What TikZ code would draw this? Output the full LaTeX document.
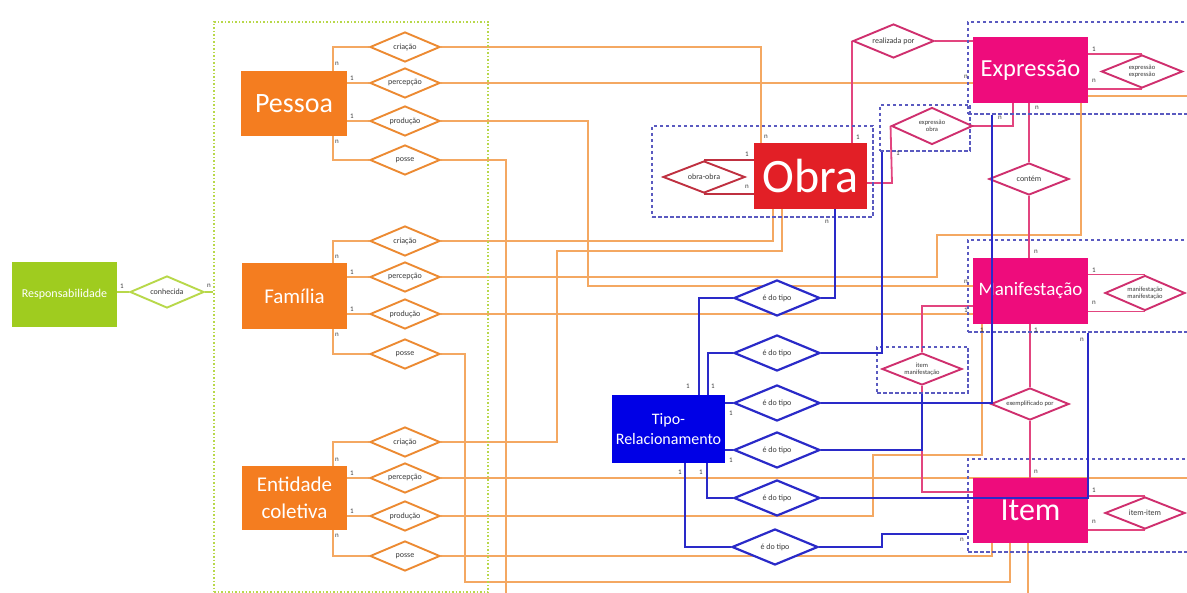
\documentclass[tikz,border=0pt]{standalone}
\usepackage{fontspec}
\setmainfont{Carlito}
\usetikzlibrary{shapes.geometric}
\pgfdeclarelayer{bg}
\pgfsetlayers{bg,main}
\definecolor{limeF}{HTML}{9FCC1F}
\definecolor{limeL}{HTML}{B8D84A}
\definecolor{orngF}{HTML}{F47D20}
\definecolor{orngD}{HTML}{EC8A32}
\definecolor{orngL}{HTML}{F4A862}
\definecolor{obraF}{HTML}{E21F26}
\definecolor{magF}{HTML}{EE0C7C}
\definecolor{pinkL}{HTML}{E2457F}
\definecolor{pinkD}{HTML}{CF2F6E}
\definecolor{redD}{HTML}{BF3040}
\definecolor{blueF}{HTML}{0000E6}
\definecolor{blueL}{HTML}{2A2AC8}
\definecolor{dashC}{HTML}{5A5AC0}
\definecolor{txtD}{HTML}{3A3A3A}
\begin{document}
\begin{tikzpicture}[x=1pt,y=-1pt,
  ent/.style={rectangle, inner sep=0pt, text=white, align=center},
  grpG/.style={draw=limeL, dotted, line width=1.5pt, inner sep=0pt},
  grpB/.style={draw=dashC, dash pattern=on 3.5pt off 2.5pt, line width=1.4pt, inner sep=0pt},
  dlab/.style={font=\fontsize{8}{8.5}\selectfont, text=txtD, align=center, inner sep=0pt},
  dlabs/.style={font=\fontsize{6.5}{7}\selectfont, text=txtD, align=center, inner sep=0pt},
  rdia/.style={diamond, fill=white, inner sep=0pt, line width=1.9pt},
  odia/.style={rdia, draw=orngD, minimum width=70pt, minimum height=30pt},
  pdia/.style={rdia, draw=pinkD, minimum width=80pt, minimum height=33pt},
  bdia/.style={rdia, draw=blueL, line width=2.2pt, minimum width=86pt, minimum height=36pt},
  oline/.style={draw=orngL, line width=1.8pt},
  gline/.style={draw=limeL, line width=1.8pt},
  pline/.style={draw=pinkL, line width=1.8pt},
  rline/.style={draw=redD, line width=1.6pt},
  bline/.style={draw=blueL, line width=1.8pt},
  num/.style={font=\fontsize{7}{7}\selectfont, text=txtD, inner sep=0pt}]
\useasboundingbox (0,0) rectangle (1187,593);
\clip (0,0) rectangle (1187,593);

% groups
\node[grpG, minimum width=274pt, minimum height=570pt] (grpA) at (351,307) {};
\node[grpB, minimum width=221pt, minimum height=91pt] (gobra) at (762.5,171.5) {};
\node[grpB, minimum width=227pt, minimum height=92pt] (gexpr) at (1081.5,68) {};
\node[grpB, minimum width=90pt, minimum height=46pt] (geo) at (925,128) {};
\node[grpB, minimum width=227pt, minimum height=92pt] (gmanif) at (1081.5,286) {};
\node[grpB, minimum width=91pt, minimum height=46pt] (gim) at (922.5,370) {};
\node[grpB, minimum width=227pt, minimum height=93pt] (gitem) at (1081.5,505.5) {};

% entities
\node[ent, fill=limeF, minimum width=105pt, minimum height=65pt, font=\fontsize{12}{13}\selectfont] (resp) at (64.5,294.5) {Responsabilidade};
\node[ent, fill=orngF, minimum width=106pt, minimum height=65pt, font=\fontsize{28}{30}\selectfont] (pessoa) at (294,103.5) {Pessoa};
\node[ent, fill=orngF, minimum width=105pt, minimum height=66pt, font=\fontsize{21}{24}\selectfont] (familia) at (294.5,296) {Família};
\node[ent, fill=orngF, minimum width=105pt, minimum height=64pt, font=\fontsize{21}{27}\selectfont] (ec) at (294.5,498) {Entidade\\coletiva};
\node[ent, fill=obraF, minimum width=113pt, minimum height=66pt, font=\fontsize{48}{50}\selectfont] (obra) at (810.5,176) {Obra};
\node[ent, fill=magF, minimum width=115pt, minimum height=66pt, font=\fontsize{24.5}{26}\selectfont] (expr) at (1030.5,70) {Expressão};
\node[ent, fill=magF, minimum width=115pt, minimum height=66pt, font=\fontsize{19}{21}\selectfont] (manif) at (1030.5,291) {Manifestação};
\node[ent, fill=magF, minimum width=115pt, minimum height=65pt, font=\fontsize{32}{34}\selectfont] (item) at (1030.5,510.5) {Item};
\node[ent, fill=blueF, minimum width=113pt, minimum height=68pt, font=\fontsize{16}{20}\selectfont] (tipo) at (668.5,429) {Tipo-\\Relacionamento};

% diamonds
\node[rdia, draw=limeL, minimum width=74pt, minimum height=32pt, label={[dlab]center:conhecida}] (conh) at (167,292) {};
\foreach \n/\y/\t in {pcr/47/criação, ppe/83/percepção, ppr/121/produção, pps/160/posse,
                      fcr/241/criação, fpe/277/percepção, fpr/314/produção, fps/354/posse,
                      ecr/442/criação, epe/478/percepção, epr/516/produção, eps/556/posse}
  \node[odia, label={[dlab]center:\t}] (\n) at (405,\y) {};
\node[rdia, draw=redD, minimum width=82pt, minimum height=32pt, label={[dlab]center:obra-obra}] (oo) at (704,177) {};
\node[pdia, minimum width=81pt, minimum height=34pt, label={[dlab]center:realizada por}] (rp) at (893.5,41) {};
\node[pdia, minimum width=81pt, minimum height=37pt, label={[dlabs]center:expressão\\obra}] (eo) at (932,126) {};
\node[pdia, minimum width=81pt, minimum height=33pt, label={[dlabs]center:expressão\\expressão}] (ee) at (1142,71.5) {};
\node[pdia, minimum height=32pt, label={[dlab]center:contém}] (ct) at (1029,179) {};
\node[pdia, minimum height=35pt, label={[dlabs]center:manifestação\\manifestação}] (mm) at (1145,293) {};
\node[pdia, minimum height=32pt, label={[dlabs]center:item\\manifestação}] (im) at (922,369) {};
\node[pdia, minimum width=78pt, minimum height=32pt, label={[dlabs]center:exemplificado por}] (ex) at (1030,404) {};
\node[pdia, minimum height=32pt, label={[dlab]center:item-item}] (ii) at (1145,513) {};
\foreach \n/\x/\y in {et1/777/298, et2/777/353, et3/777/403, et4/777/450, et5/777/498, et6/775/547}
  \node[bdia, label={[dlab]center:é do tipo}] (\n) at (\x,\y) {};

% routing coordinates
\coordinate (c1) at (588,286);
\coordinate (c2) at (506,600);
\coordinate (c3) at (937,235);
\coordinate (c4) at (465,582);
\coordinate (c5) at (557,251);
\coordinate (c6) at (1195,478);
\coordinate (c7) at (873,455);
\coordinate (c8) at (1195,96);
\coordinate (c9) at (1028,600);
\coordinate (p1) at (1013,126);
\coordinate (p2) at (892,183);
\coordinate (p3) at (922,306);
\coordinate (p4) at (922,492);
\coordinate (b1) at (699,298);
\coordinate (b2) at (835,298);
\coordinate (b3) at (708,353);
\coordinate (b4) at (882,353);
\coordinate (b5) at (992,403);
\coordinate (b6) at (922,450);
\coordinate (b7) at (707,498);
\coordinate (b8) at (1088,498);
\coordinate (b9) at (685,547);
\coordinate (b10) at (882,534);

\begin{pgfonlayer}{bg}
% green
\draw[gline] (resp.east |- conh.west) -- (conh.west);
\draw[gline] (conh.east) -- (conh.east -| grpA.west);
% orange, entity side
\foreach \e/\a/\b/\c/\d in {pessoa/pcr/ppe/ppr/pps, familia/fcr/fpe/fpr/fps, ec/ecr/epe/epr/eps}{
  \draw[oline] ([xshift=-14pt]\e.north east) |- (\a.west);
  \draw[oline] (\b.west) -- (\b.west -| \e.east);
  \draw[oline] (\c.west) -- (\c.west -| \e.east);
  \draw[oline] ([xshift=-14pt]\e.south east) |- (\d.west);
}
% orange, far side
\draw[oline] (pcr.east) -| ([xshift=-49.5pt]obra.north);
\draw[oline] (ppe.east) -- (ppe.east -| expr.west);
\draw[oline] (ppr.east) -| (c1) -- (c1 -| manif.west);
\draw[oline] (pps.east) -| (c2);
\draw[oline] (fcr.east) -| ([xshift=-37.5pt]obra.south);
\draw[oline] (fpe.east) -| (c3) -| ([xshift=-7pt]expr.south east);
\draw[oline] (fpr.east) -- (fpr.east -| manif.west);
\draw[oline] (fps.east) -| (c4) -| ([xshift=-20.5pt]item.south);
\draw[oline] (ecr.east) -| (c5) -| ([xshift=-28.5pt]obra.south);
\draw[oline] (epe.east) -- (c6);
\draw[oline] (epr.east) -| (c7) -| ([xshift=-48.5pt]manif.south);
\draw[oline] (eps.east) -| ([xshift=-38.5pt]item.south);
\draw[oline] ([yshift=-26pt]expr.east) -- (c8);
\draw[oline] (c9 |- item.south) -- (c9);
% pink
\draw[rline] (oo.north) -- (oo.north -| obra.west);
\draw[rline] (oo.south) -- (oo.south -| obra.west);
\draw[pline] (rp.west) -- (rp.west |- obra.north);
\draw[pline] (rp.east) -- (rp.east -| expr.west);
\draw[pline] (eo.east) -- (p1) -- (p1 |- expr.south);
\draw[pline] (eo.west) -- (p2) -- (p2 -| obra.east);
\draw[pline] (ee.north) -- (ee.north -| expr.east);
\draw[pline] (ee.south) -- (ee.south -| expr.east);
\draw[pline] (ct.north) -- (ct.north |- expr.south);
\draw[pline] (ct.south) -- (ct.south |- manif.north);
\draw[pline] (mm.north) -- (mm.north -| manif.east);
\draw[pline] (mm.south) -- (mm.south -| manif.east);
\draw[pline] (im.north) -- (p3) -- (p3 -| manif.west);
\draw[pline] (im.south) -- (p4) -- (p4 -| item.west);
\draw[pline] (ex.north) -- (ex.north |- manif.south);
\draw[pline] (ex.south) -- (ex.south |- item.north);
\draw[pline] (ii.north) -- (ii.north -| item.east);
\draw[pline] (ii.south) -- (ii.south -| item.east);
\end{pgfonlayer}

% blue
\draw[bline] (et1.west) -- (b1) -- (b1 |- tipo.north);
\draw[bline] (et1.east) -- (b2) -- (b2 |- obra.south);
\draw[bline] (et2.west) -- (b3) -- (b3 |- tipo.north);
\draw[bline] (et2.east) -- (b4) -- (b4 |- geo.south);
\draw[bline] (et3.west) -- (et3.west -| tipo.east);
\draw[bline] (et3.east) -- (b5) -- (b5 |- gexpr.south);
\draw[bline] (et4.west) -- (et4.west -| tipo.east);
\draw[bline] (et4.east) -- (b6) -- (b6 |- gim.south);
\draw[bline] (et5.west) -- (b7) -- (b7 |- tipo.south);
\draw[bline] (et5.east) -- (b8) -- (b8 |- gmanif.south);
\draw[bline] (et6.west) -- (b9) -- (b9 |- tipo.south);
\draw[bline] (et6.east) -| (b10) -- (b10 -| gitem.west);

% cardinalities
\foreach \n/\x/\y/\t in {
  n01/122/286/1, n02/209/286/n,
  n03/337/64/n, n04/352/78/1, n05/352/116/1, n06/337/142/n,
  n07/337/257/n, n08/352/272/1, n09/352/309/1, n10/337/335/n,
  n11/337/460/n, n12/352/473/1, n13/352/511/1, n14/337/536/n,
  n15/766/137/n, n16/747/154/1, n17/747/187/n, n18/858/137/1, n19/827/222/n, n20/898/153/1,
  n21/966/77/n, n22/1094/49/1, n23/1094/81/n, n24/1000/118/n, n25/1037/108/n,
  n26/1036/252/n, n27/1094/270/1, n28/1094/303/n, n29/966/282/n, n30/966/310/1,
  n31/1036/330/1, n32/1082/340/n, n33/982/330/1,
  n34/1036/472/n, n35/1094/490/1, n36/1094/522/n, n37/962/540/n,
  n38/688/386/1, n39/713/386/1, n40/731/413/1, n41/731/460/1, n42/680/472/1, n43/701/472/1}
  \node[num] (\n) at (\x,\y) {\t};
\end{tikzpicture}
\end{document}
